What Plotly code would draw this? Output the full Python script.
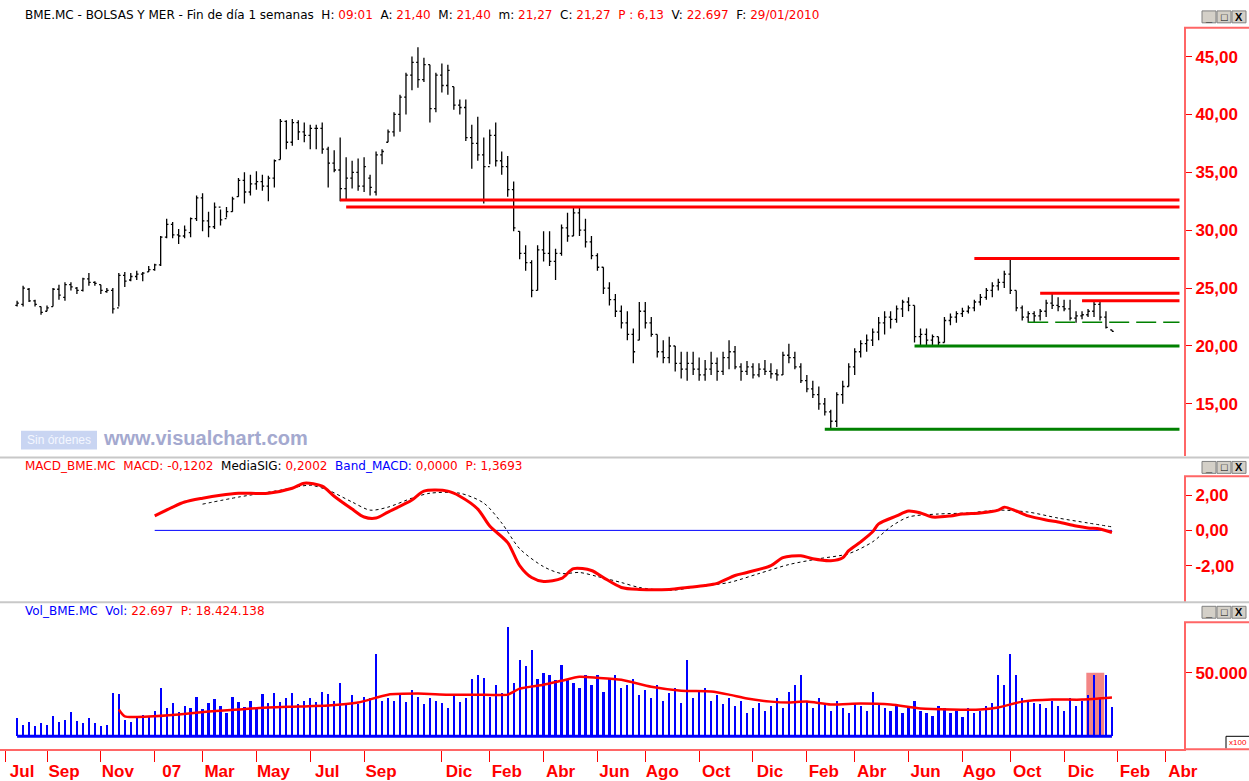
import plotly.graph_objects as go
import pandas as pd

W, H = 1249, 781
PR = 1184  # right edge of plot area (px)

# ---------------- DATA ----------------
start_date = "2006-07-28"
n_weeks = 184
dates = list(pd.date_range(start_date, periods=n_weeks, freq="7D"))

highs = [23.9,25.2,25.0,24.0,23.4,23.5,25.0,25.3,25.5,25.5,25.1,25.9,26.3,25.6,25.3,25.0,25.0,26.3,26.4,26.3,
         26.5,26.4,26.9,27.1,29.5,31.0,30.7,30.1,30.4,31.1,33.0,33.2,31.6,32.4,31.8,32.0,32.9,34.5,35.0,34.8,
         35.1,34.8,34.7,36.1,39.6,39.5,39.6,39.5,39.3,39.1,39.1,39.3,37.2,36.9,38.0,36.3,36.0,36.2,36.3,34.8,
         36.8,37.0,38.7,40.2,41.7,43.6,45.0,45.8,44.9,44.3,43.6,44.4,44.3,42.4,41.3,41.3,39.1,39.8,38.0,38.7,
         39.3,36.8,36.4,34.2,29.9,28.7,27.4,28.7,29.9,29.9,28.4,
         30.5,31.5,32.0,32.0,31.0,29.5,28.0,26.8,25.5,24.5,23.5,23.0,21.5,23.8,23.8,22.5,21.0,20.5,20.8,20.0,
         19.5,19.5,19.5,19.0,18.8,19.5,19.0,19.5,20.5,20.0,18.5,18.7,18.5,18.5,18.8,18.5,18.0,19.5,20.2,19.5,
         18.5,17.5,17.0,16.5,15.5,14.5,16.0,17.0,18.5,19.8,20.5,21.0,21.5,22.5,23.0,23.0,23.5,24.0,24.2,23.5,
         21.5,21.5,21.0,20.8,22.5,22.8,23.0,23.3,23.5,24.0,24.5,25.0,25.5,25.8,26.5,27.5,24.8,23.5,23.0,23.0,
         23.2,24.0,24.5,24.2,24.0,24.0,23.0,23.0,23.2,23.9,23.8,23.0,21.40]
lows = [23.4,23.4,23.8,23.4,22.7,23.0,23.4,24.0,23.9,24.8,24.5,24.7,25.2,25.2,24.5,24.6,22.8,23.4,25.1,25.6,
        25.7,25.6,26.4,26.5,26.9,29.3,29.3,28.8,29.3,29.4,30.8,29.9,29.4,30.1,30.4,31.1,31.6,32.9,32.3,33.0,
        33.5,33.4,32.5,33.7,36.1,37.0,37.3,37.8,37.6,37.0,37.0,36.6,33.7,35.0,32.5,32.7,33.6,33.4,33.3,33.0,
        33.0,35.7,37.6,38.1,38.5,40.0,42.1,42.3,42.8,39.3,40.2,41.9,41.7,40.4,40.0,37.7,35.3,36.0,32.3,35.7,
        35.5,34.8,32.9,29.9,27.5,26.5,24.2,24.8,27.3,26.9,25.7,
        27.8,29.0,29.5,29.5,28.5,27.5,26.5,24.5,23.5,22.5,21.5,20.5,18.5,20.5,21.5,20.8,19.0,18.5,18.5,17.8,
        17.2,17.0,17.5,17.0,17.0,17.5,17.0,17.5,18.0,18.0,17.0,17.5,17.2,17.3,17.5,17.2,17.0,17.5,18.5,18.0,
        16.8,16.0,15.5,14.5,14.0,12.8,13.0,15.0,16.5,17.5,19.0,19.5,20.0,20.5,21.0,21.5,22.0,22.5,23.0,20.3,
        20.0,20.0,20.0,20.0,20.3,21.8,22.0,22.5,22.8,23.0,23.5,24.0,24.2,24.8,25.0,24.5,23.0,22.2,22.0,22.0,
        22.2,22.5,23.2,23.0,23.0,22.2,22.0,22.3,22.5,22.5,22.2,21.5,21.27]
opens = [23.5,23.6,24.9,23.9,23.4,23.0,23.4,24.9,24.2,25.3,25.0,24.8,25.8,25.5,25.3,24.7,24.8,23.3,26.1,25.7,
         26.0,26.2,26.4,26.6,27.0,29.4,30.5,29.6,29.5,29.8,31.0,32.8,30.8,30.3,32.0,31.0,31.6,32.9,34.3,33.3,
         34.0,34.2,33.8,34.5,36.1,39.4,37.6,39.3,38.5,38.2,38.8,38.8,37.0,35.8,35.2,33.6,34.5,35.0,33.8,34.5,
         33.3,36.5,37.6,38.5,40.0,41.5,43.4,44.5,43.0,44.3,40.5,43.4,42.5,42.4,40.8,40.6,38.0,37.5,36.5,35.5,
         38.2,36.0,35.5,33.5,29.9,28.0,27.2,24.8,28.3,28.0,27.3,
         28.0,30.2,29.5,31.5,30.0,29.0,27.8,26.8,25.0,24.0,23.0,22.0,21.0,20.5,23.0,22.0,21.0,19.5,19.0,20.0,
         18.5,18.0,18.5,18.0,17.5,18.0,18.5,17.8,19.0,19.5,18.2,17.8,18.2,17.5,18.0,17.8,17.6,17.5,19.2,19.0,
         18.2,17.0,16.3,15.8,15.0,14.3,13.5,15.8,16.5,18.2,19.5,20.2,20.5,21.2,22.0,22.5,22.3,23.2,23.8,23.5,
         20.8,21.0,20.5,20.8,20.3,22.2,22.5,22.8,23.0,23.3,23.8,24.2,24.8,25.2,25.5,26.2,24.8,23.3,22.5,22.8,
         22.6,23.0,23.7,23.5,23.4,23.2,22.4,22.6,22.7,23.0,23.6,22.5,21.40]
closes = [23.7,25.0,23.9,23.6,22.9,23.3,24.9,24.4,25.3,25.1,24.8,25.8,25.5,25.4,24.8,24.8,23.2,26.1,25.6,26.0,
          26.2,26.3,26.6,27.0,29.4,30.5,29.6,29.5,30.0,31.0,32.8,30.8,30.3,32.0,30.9,31.6,32.7,34.3,33.3,34.0,
          34.2,33.8,34.5,36.0,39.4,37.6,39.3,38.5,38.2,38.8,38.8,37.0,35.8,35.2,33.6,34.5,35.0,33.8,35.5,33.7,
          36.5,36.8,38.5,40.0,41.5,43.4,44.5,43.0,44.3,40.5,43.4,42.5,43.8,40.8,40.6,38.0,37.5,36.5,35.5,38.2,
          36.0,35.5,33.5,30.2,28.0,27.2,24.8,28.3,28.0,27.3,28.0,
          30.2,29.5,31.5,30.0,29.0,27.8,26.8,25.0,24.0,23.0,22.0,21.0,19.5,23.0,22.0,21.0,19.5,19.0,20.0,18.5,
          18.0,18.5,18.0,17.5,18.0,18.5,17.8,19.0,19.5,18.2,17.8,18.2,17.5,18.0,17.8,17.6,17.5,19.2,19.0,18.2,
          17.0,16.3,15.8,15.0,14.3,13.5,15.8,16.5,18.2,19.5,20.2,20.5,21.2,22.0,22.5,22.3,23.2,23.8,23.5,20.8,
          21.0,20.5,20.8,20.3,22.2,22.5,22.8,23.0,23.3,23.8,24.2,24.8,25.2,25.5,26.2,24.8,23.3,22.5,22.8,22.6,
          23.0,23.7,23.5,23.4,23.2,22.4,22.6,22.7,23.0,23.6,22.5,21.6,21.27]

volumes = [14000,9000,11000,8000,10000,9000,16000,11000,13000,19000,12000,10000,14000,10000,8000,9000,34000,33000,13000,11000,
           16000,17000,15000,20000,38000,22000,26000,19000,24000,22000,31000,21000,26000,29000,24000,18000,31000,27000,23000,28000,
           22000,33000,26000,34000,27000,30000,34000,25000,28000,30000,27000,35000,33000,28000,42000,26000,32000,25000,31000,30000,
           65000,28000,30000,28000,33000,27000,36000,31000,25000,30000,28000,26000,22000,33000,27000,30000,45000,48000,46000,31000,
           40000,34000,86000,42000,60000,55000,68000,45000,50000,48000,44000,56000,45000,42000,38000,48000,40000,48000,35000,45000,
           48000,38000,40000,45000,32000,36000,30000,40000,28000,34000,38000,26000,60000,30000,36000,38000,28000,32000,25000,30000,
           24000,28000,18000,22000,26000,20000,24000,30000,22000,35000,40000,48000,28000,22000,30000,25000,20000,28000,22000,18000,
           26000,24000,20000,35000,25000,22000,20000,24000,18000,22000,28000,20000,18000,16000,24000,22000,18000,20000,15000,22000,
           18000,20000,24000,26000,48000,40000,65000,48000,30000,28000,26000,25000,22000,28000,24000,20000,30000,24000,28000,32000,
           48000,30000,48000,22697]

# MACD (at selected weeks)
macd_idx = [23,26,28,31,34,37,42,46,48,51,53,56,58,60,62,66,68,72,74,77,79,82,84,86,88,91,93,96,98,101,104,109,112,115,117,
            120,122,126,128,131,133,136,138,139,141,143,144,147,149,151,153,156,158,161,164,165,167,169,172,174,177,179,181,183]
macd_val = [0.82,1.32,1.61,1.83,2.0,2.11,2.11,2.39,2.68,2.51,1.94,1.21,0.76,0.70,1.04,1.72,2.23,2.23,1.94,1.21,0.25,-0.70,
            -2.0,-2.68,-2.90,-2.73,-2.17,-2.28,-2.68,-3.24,-3.35,-3.35,-3.24,-3.13,-3.01,-2.56,-2.39,-2.0,-1.55,-1.44,-1.61,
            -1.72,-1.55,-1.15,-0.65,-0.08,0.37,0.82,1.10,0.99,0.76,0.82,0.93,0.99,1.15,1.32,1.10,0.82,0.59,0.48,0.25,0.14,0.08,-0.1202]
sig_idx = [31,37,44,49,52,56,59,62,66,69,74,78,81,84,88,91,94,97,101,104,109,114,119,124,129,134,139,143,146,149,154,159,
           164,169,174,179,183]
sig_val = [1.49,1.89,2.28,2.56,2.28,1.61,1.15,1.32,1.83,2.11,2.11,1.55,0.42,-1.04,-2.06,-2.45,-2.39,-2.62,-2.96,-3.24,-3.41,
           -3.18,-2.96,-2.45,-1.94,-1.61,-1.32,-0.65,0.20,0.76,0.93,0.99,1.15,1.04,0.70,0.42,0.2002]
band_idx = [23, 183]
band_val = [0.0, 0.0]

# Volume moving average
vma_idx = [17,18,22,27,32,37,42,47,52,57,62,67,72,77,82,84,88,91,94,97,101,106,111,116,119,122,126,129,132,136,141,146,
           151,156,161,164,168,173,178,183]
vma_val = [21100,15600,15600,17200,19500,21100,22700,23400,24200,26600,32800,33600,32800,32800,32800,37500,40600,43750,
           46900,46100,44500,39000,35900,35200,32800,29700,27300,26600,27300,25000,25800,25000,21900,21100,21100,22700,
           27300,28900,28900,30500]

# Resistance / support levels
res_levels = [32.6, 32.0, 27.55, 24.55, 23.9]
res_starts = ["2007-08-10", "2007-08-17", "2009-08-21", "2009-11-06", "2009-12-25"]
sup_levels = [20.0, 12.8]
sup_starts = ["2009-06-12", "2009-02-27"]
dash_level = 22.05
dash_start = "2009-10-23"
level_end = "2010-04-18"

hl_box = ["2009-12-30", "2010-01-20", 50000]

tick_dates = ["2006-07-14", "2006-09-01", "2006-11-03", "2007-01-05", "2007-03-02", "2007-05-04", "2007-07-06",
              "2007-09-07", "2007-12-07", "2008-02-01", "2008-04-04", "2008-06-06", "2008-08-01", "2008-10-03",
              "2008-12-05", "2009-02-06", "2009-04-03", "2009-06-05", "2009-08-07", "2009-10-02", "2009-12-04",
              "2010-02-05", "2010-04-02"]
tick_text = ["Jul", "Sep", "Nov", "07", "Mar", "May", "Jul", "Sep", "Dic", "Feb", "Abr", "Jun", "Ago", "Oct", "Dic",
             "Feb", "Abr", "Jun", "Ago", "Oct", "Dic", "Feb", "Abr"]

price_ticks = [15, 20, 25, 30, 35, 40, 45]
macd_ticks = [-2, 0, 2]
macd_ticktext = ["-2,00", "0,00", "2,00"]
vol_ticks = [50000]
vol_ticktext = ["50.000"]

# ---------------- FIGURE ----------------
def py(ypx):
    return (H - ypx) / H

def pxx(xpx):
    return xpx / PR

RED = "#ff0000"
AXRED = "#ff6666"
FONT = "DejaVu Sans"
BFONT = "Liberation Sans, Arial"

fig = go.Figure()

fig.add_trace(go.Ohlc(x=dates, open=opens, high=highs, low=lows, close=closes,
                      increasing=dict(line=dict(color="black", width=1.3)),
                      decreasing=dict(line=dict(color="black", width=1.3)),
                      tickwidth=0.3, xaxis="x", yaxis="y", hoverinfo="skip"))

for lv, st in zip(res_levels, res_starts):
    fig.add_trace(go.Scatter(x=[st, level_end], y=[lv, lv], mode="lines",
                             line=dict(color=RED, width=3), yaxis="y", hoverinfo="skip"))
for lv, st in zip(sup_levels, sup_starts):
    fig.add_trace(go.Scatter(x=[st, level_end], y=[lv, lv], mode="lines",
                             line=dict(color="#008000", width=3), yaxis="y", hoverinfo="skip"))
fig.add_trace(go.Scatter(x=[dash_start, level_end], y=[dash_level, dash_level], mode="lines",
                         line=dict(color="#008000", width=1.3, dash="20px,7px"), yaxis="y", hoverinfo="skip"))

# MACD
fig.add_trace(go.Scatter(x=[dates[i] for i in band_idx], y=band_val, mode="lines",
                         line=dict(color="#0000ff", width=1), yaxis="y2", hoverinfo="skip"))
fig.add_trace(go.Scatter(x=[dates[i] for i in sig_idx], y=sig_val, mode="lines",
                         line=dict(color="black", width=1, dash="dot", shape="spline", smoothing=0.8),
                         yaxis="y2", hoverinfo="skip"))
fig.add_trace(go.Scatter(x=[dates[i] for i in macd_idx], y=macd_val, mode="lines",
                         line=dict(color=RED, width=3, shape="spline", smoothing=0.8),
                         yaxis="y2", hoverinfo="skip"))

# Volume
fig.add_trace(go.Bar(x=dates, y=volumes, marker=dict(color="#0000ff", line=dict(width=0)),
                     width=2.6 * 86400000, yaxis="y3", hoverinfo="skip"))
fig.add_trace(go.Scatter(x=[dates[i] for i in vma_idx], y=vma_val, mode="lines",
                         line=dict(color=RED, width=2.5, shape="spline", smoothing=0.6),
                         yaxis="y3", hoverinfo="skip"))

shapes = []
# highlighted box in volume panel
shapes.append(dict(type="rect", xref="x", yref="y3", x0=hl_box[0], x1=hl_box[1], y0=0, y1=hl_box[2],
                   fillcolor="#f38686", line=dict(width=0), layer="below"))
# volume baseline
shapes.append(dict(type="line", xref="x", yref="y3", x0=dates[0], x1=dates[-1], y0=0, y1=0,
                   line=dict(color="#0000ff", width=3)))
# gray separators
for yy in [461, 607]:
    shapes.append(dict(type="line", xref="paper", yref="paper", x0=0, x1=pxx(W), y0=py(yy), y1=py(yy),
                       line=dict(color="#c8c8c8", width=2)))
# red corner lines at panel tops and bottom axis extension
for yy in [28, 480, 627]:
    shapes.append(dict(type="line", xref="paper", yref="paper", x0=1, x1=pxx(W), y0=py(yy), y1=py(yy),
                       line=dict(color=AXRED, width=2)))
shapes.append(dict(type="line", xref="paper", yref="paper", x0=1, x1=pxx(W), y0=py(755), y1=py(755),
                   line=dict(color=AXRED, width=2)))
# x100 box
shapes.append(dict(type="line", xref="paper", yref="paper", x0=pxx(1226), x1=pxx(1226), y0=py(742), y1=py(754),
                   line=dict(color="black", width=1)))
shapes.append(dict(type="line", xref="paper", yref="paper", x0=pxx(1226), x1=pxx(W), y0=py(742), y1=py(742),
                   line=dict(color="black", width=1)))
# watermark box
shapes.append(dict(type="rect", xref="paper", yref="paper", x0=pxx(21), x1=pxx(97), y0=py(453), y1=py(434),
                   fillcolor="#c9d5f2", line=dict(width=0)))
# window buttons
annotations = []
for top in [11, 465, 611]:
    for k, glyph in enumerate(["_", "□", "X"]):
        x0 = 1202 + k * 15
        shapes.append(dict(type="rect", xref="paper", yref="paper", x0=pxx(x0), x1=pxx(x0 + 14),
                           y0=py(top + 12), y1=py(top), fillcolor="#d4d0c8",
                           line=dict(color="#808080", width=1)))
        annotations.append(dict(xref="paper", yref="paper", x=pxx(x0 + 7), y=py(top + 6), text=glyph,
                                showarrow=False, font=dict(family=BFONT, size=11, color="black", weight="bold"),
                                xanchor="center", yanchor="middle"))

def c(t, col=RED):
    return "<span style='color:%s'>%s</span>" % (col, t)

title_txt = ("BME.MC - BOLSAS Y MER - Fin de día 1 semanas  H: " + c("09:01") + "  A: " + c("21,40") +
             "  M: " + c("21,40") + "  m: " + c("21,27") + "  C: " + c("21,27") + "  " + c("P : 6,13") +
             "  V: " + c("22.697") + "  F: " + c("29/01/2010"))
macd_txt = (c("MACD_BME.MC  MACD: -0,1202") + "  MediaSIG: " + c("0,2002") + "  " +
            c("Band_MACD:", "#0000ff") + " " + c("0,0000") + "  " + c("P: 1,3693"))
vol_txt = c("Vol_BME.MC  Vol:", "#0000ff") + " " + c("22.697  P: 18.424.138")

for txt, yy in [(title_txt, 15), (macd_txt, 470), (vol_txt, 616)]:
    annotations.append(dict(xref="paper", yref="paper", x=pxx(23), y=py(yy), text=txt, showarrow=False,
                            xanchor="left", yanchor="middle", font=dict(family=FONT, size=12, color="black")))
annotations.append(dict(xref="paper", yref="paper", x=pxx(59), y=py(443.5), text="Sin órdenes", showarrow=False,
                        xanchor="center", yanchor="middle", font=dict(family="Liberation Sans, Arial", size=12, color="#f4f7ff")))
annotations.append(dict(xref="paper", yref="paper", x=pxx(101), y=py(441), text="www.visualchart.com", showarrow=False,
                        xanchor="left", yanchor="middle",
                        font=dict(family="Liberation Sans, Arial", size=20, color="#a4a9cf", weight="bold")))
annotations.append(dict(xref="paper", yref="paper", x=pxx(1227), y=py(748.5), text="x100", showarrow=False,
                        xanchor="left", yanchor="middle", font=dict(family=BFONT, size=8, color=RED)))

tickfont = dict(family=BFONT, size=17, color=RED, weight="bold")
yax_common = dict(side="right", anchor="x", showline=True, linecolor=AXRED, linewidth=2, ticks="outside",
                  ticklen=6, tickcolor=RED, tickwidth=1, showgrid=False, zeroline=False, tickfont=tickfont,
                  fixedrange=True)

fig.update_layout(
    width=W, height=H, margin=dict(l=0, r=W - PR, t=0, b=0),
    paper_bgcolor="white", plot_bgcolor="white", showlegend=False, separators=",.",
    bargap=0,
    xaxis=dict(domain=[0, 1], anchor="y3", type="date", range=["2006-07-08", "2010-04-23 07:00"],
               showline=True, linecolor=AXRED, linewidth=2, ticks="outside", ticklen=11, tickcolor=RED,
               tickwidth=1, tickvals=tick_dates, ticktext=tick_text, ticklabelshift=17, ticklabelstandoff=-6,
               tickfont=tickfont, showgrid=False, zeroline=False, rangeslider=dict(visible=False)),
    yaxis=dict(domain=[py(460), py(28)], range=[10.457, 47.486], tickvals=price_ticks, tickformat=".2f",
               **yax_common),
    yaxis2=dict(domain=[py(607), py(480)], range=[-4.085, 3.07], tickvals=macd_ticks, ticktext=macd_ticktext,
                **yax_common),
    yaxis3=dict(domain=[py(755), py(627)], range=[-10156, 89844], tickvals=vol_ticks, ticktext=vol_ticktext,
                **yax_common),
    shapes=shapes, annotations=annotations,
)

fig.write_html("out.html")
